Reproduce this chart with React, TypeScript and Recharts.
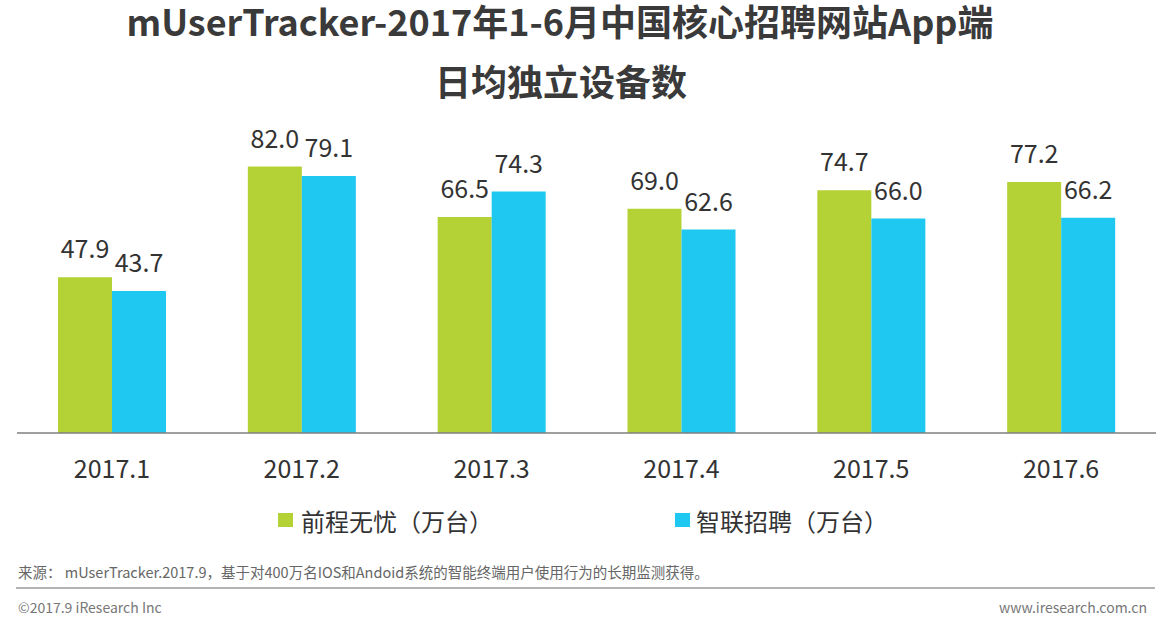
import React from 'react';
import { BarChart, Bar, XAxis, YAxis, LabelList } from 'recharts';

const categories = ['2017.1', '2017.2', '2017.3', '2017.4', '2017.5', '2017.6'];
const qcwyValues = [47.9, 82.0, 66.5, 69.0, 74.7, 77.2];
const zlzpValues = [43.7, 79.1, 74.3, 62.6, 66.0, 66.2];
const seriesNames = ['前程无忧（万台）', '智联招聘（万台）'];
const titleLines = ['mUserTracker-2017年1-6月中国核心招聘网站App端', '日均独立设备数'];
const sourceText = '来源： mUserTracker.2017.9，基于对400万名IOS和Andoid系统的智能终端用户使用行为的长期监测获得。';
const footerLeft = '©2017.9 iResearch Inc';
const footerRight = 'www.iresearch.com.cn';

const GREEN = '#b4d135';
const BLUE = '#1ec8f0';
const FONT = '"Noto Sans CJK SC", "Noto Sans", sans-serif';

const data = categories.map((c, i) => ({ name: c, qcwy: qcwyValues[i], zlzp: zlzpValues[i] }));

const fmt = (v: number) => v.toFixed(1);

export default function App() {
  return (
    <div style={{ position: 'absolute', left: 0, top: 0, width: 1165, height: 623, background: '#fff', fontFamily: FONT }}>
      <BarChart
        width={1165}
        height={623}
        data={data}
        margin={{ top: 108, right: 9, bottom: 160, left: 17 }}
        barSize={54}
        barGap={0}
      >
        <YAxis hide domain={[0, 100]} />
        <XAxis
          dataKey="name"
          height={30}
          axisLine={{ stroke: '#7f7f7f', strokeWidth: 1.5 }}
          tickLine={false}
          tickSize={0}
          tickMargin={27}
          tick={{ fill: '#333', fontSize: 25, fontFamily: FONT }}
          interval={0}
        />
        <Bar dataKey="qcwy" fill={GREEN} isAnimationActive={false}>
          <LabelList dataKey="qcwy" position="top" offset={19} formatter={fmt} style={{ fill: '#333', fontSize: 25, fontFamily: FONT }} />
        </Bar>
        <Bar dataKey="zlzp" fill={BLUE} isAnimationActive={false}>
          <LabelList dataKey="zlzp" position="top" offset={19} formatter={fmt} style={{ fill: '#333', fontSize: 25, fontFamily: FONT }} />
        </Bar>
      </BarChart>
      <svg width={1165} height={623} style={{ position: 'absolute', left: 0, top: 0, pointerEvents: 'none' }}>
        <text x={560} y={36} textAnchor="middle" fontSize={36} fontWeight="bold" fill="#3a3a3a" fontFamily={FONT}>{titleLines[0]}</text>
        <text x={561} y={96} textAnchor="middle" fontSize={36} fontWeight="bold" fill="#3a3a3a" fontFamily={FONT}>{titleLines[1]}</text>

        <rect x={278} y={513} width={15} height={14} fill={GREEN} />
        <text x={301} y={531} fontSize={24} fill="#333" fontFamily={FONT}>{seriesNames[0]}</text>
        <rect x={675} y={513} width={15} height={14} fill={BLUE} />
        <text x={696} y={531} fontSize={24} fill="#333" fontFamily={FONT}>{seriesNames[1]}</text>

        <text x={18} y={578} fontSize={14.5} fill="#666" fontFamily={FONT}>{sourceText}</text>
        <line x1={16} x2={1155} y1={588} y2={588} stroke="#9a9a9a" strokeWidth={1.5} />
        <text x={18} y={613} fontSize={14} fill="#777" fontFamily={FONT}>{footerLeft}</text>
        <text x={1147} y={613} textAnchor="end" fontSize={14} fill="#777" fontFamily={FONT}>{footerRight}</text>
      </svg>
    </div>
  );
}
